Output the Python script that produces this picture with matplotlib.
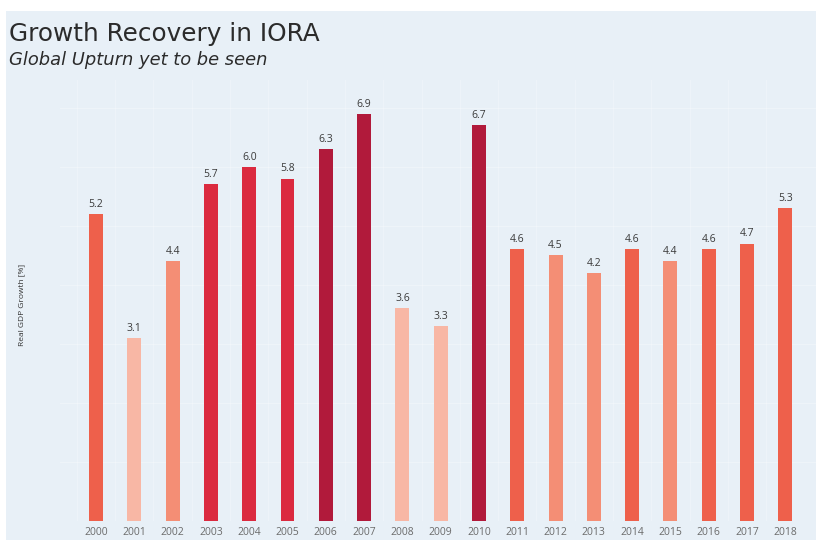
import numpy as np
import matplotlib.pyplot as plt
from matplotlib.patches import Rectangle

years = ['2000', '2001', '2002', '2003', '2004', '2005', '2006', '2007', '2008', '2009',
         '2010', '2011', '2012', '2013', '2014', '2015', '2016', '2017', '2018']
growth = [5.2, 3.1, 4.4, 5.7, 6.0, 5.8, 6.3, 6.9, 3.6, 3.3,
          6.7, 4.6, 4.5, 4.2, 4.6, 4.4, 4.6, 4.7, 5.3]

# colour bins (upper bound, colour)
bins = [(3.9, '#f8b7a5'), (4.55, '#f48e75'), (5.5, '#ee604b'),
        (6.1, '#db2a3f'), (9.0, '#b11a3b')]


def bar_color(v):
    for hi, c in bins:
        if v <= hi:
            return c
    return bins[-1][1]


W, H = 816, 540
bg = '#e8f0f7'
font = 'Open Sans'

fig = plt.figure(figsize=(W / 100, H / 100), dpi=100, facecolor='white')
fig.patches.append(Rectangle((6 / W, 0), 1, (H - 11) / H, transform=fig.transFigure,
                             facecolor=bg, edgecolor='none', zorder=-10))

ax = fig.add_axes([60 / W, (H - 521) / H, (W - 60) / W, (521 - 80) / H])
ax.patch.set_alpha(0)

x = np.arange(len(years))
ax.bar(x, growth, width=0.365, color=[bar_color(v) for v in growth], zorder=3)

for xi, v in zip(x, growth):
    ax.text(xi, v + 0.07, f'{v:.1f}', ha='center', va='bottom',
            fontsize=7.5, color='#3a3a3a', family=font, zorder=4)

# faint tableau-ish grid
for yy in range(1, 8):
    ax.axhline(yy, color='white', lw=0.8, alpha=0.3, zorder=1)
for xi in x:
    ax.axvline(xi - 0.5, color='white', lw=0.8, alpha=0.25, zorder=1)

ax.set_xlim(-0.94, 18.8)
ax.set_ylim(0, 7.47)
ax.set_xticks(x)
ax.set_xticklabels(years, fontsize=7.5, color='#6b6b6b', family=font)
ax.tick_params(axis='x', length=0, pad=4)
ax.set_yticks([])
for s in ax.spines.values():
    s.set_visible(False)

fig.text(22 / W, 1 - 305 / H, 'Real GDP Growth [%]', rotation=90, ha='center', va='center',
         fontsize=6, color='#333333', family=font)

fig.text(9 / W, 1 - 34 / H, 'Growth Recovery in IORA', ha='left', va='center',
         fontsize=17.8, color='#2b2b2b', family='DejaVu Sans')
fig.text(9 / W, 1 - 60 / H, 'Global Upturn yet to be seen', ha='left', va='center',
         fontsize=12.9, color='#2b2b2b', family='DejaVu Sans', style='italic')

fig.savefig('out.png', dpi=100, facecolor='white')
